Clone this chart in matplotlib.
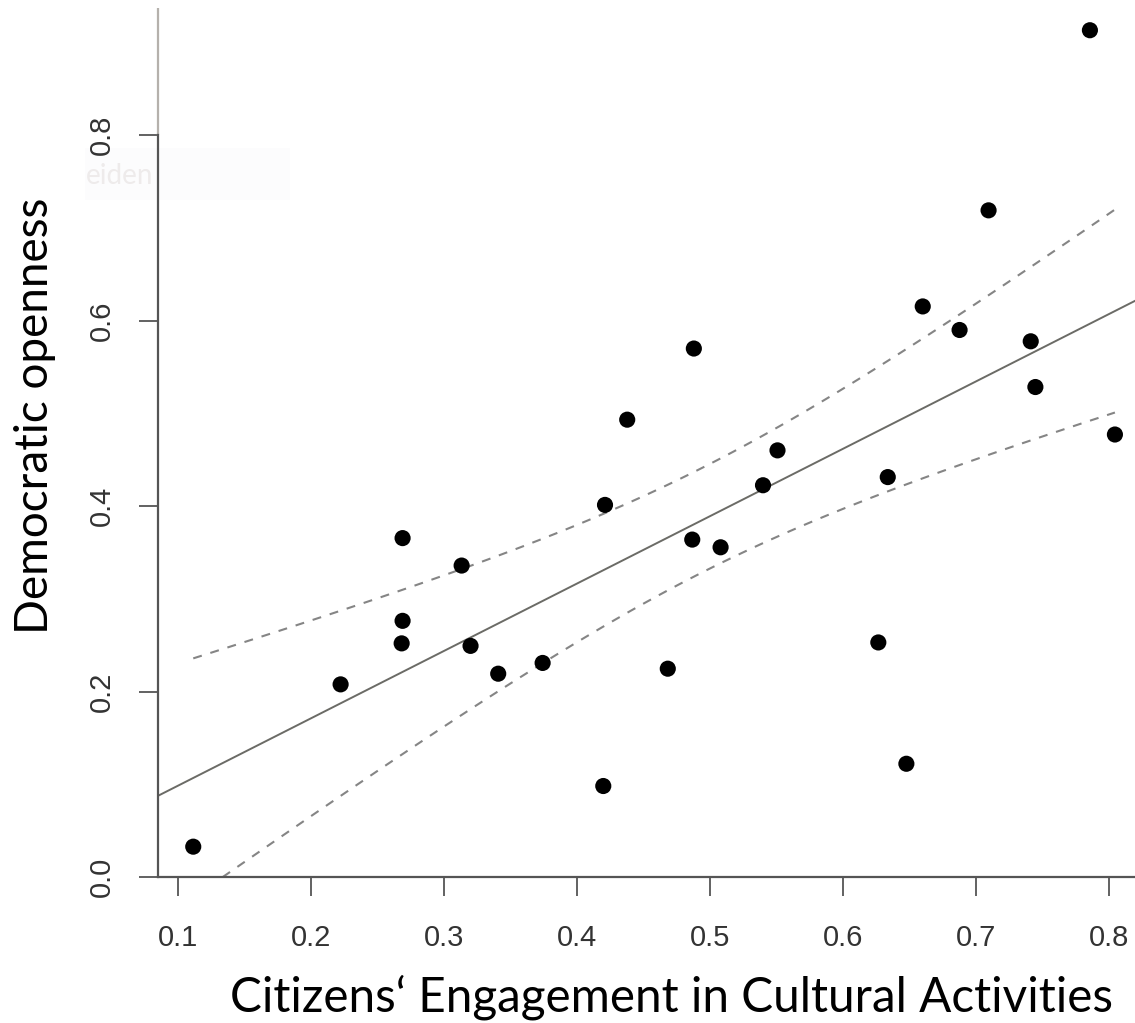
import numpy as np
import matplotlib
matplotlib.use("Agg")
import matplotlib.pyplot as plt
from matplotlib.patches import Rectangle

# values
engagement = [0.1115, 0.2223, 0.2689, 0.2689, 0.2682, 0.3133, 0.3200, 0.3408,
              0.3742, 0.4211, 0.4198, 0.4378, 0.4879, 0.4683, 0.4867, 0.5080,
              0.5508, 0.5399, 0.6337, 0.6266, 0.6477, 0.6600, 0.6877, 0.7095,
              0.7412, 0.7447, 0.8045, 0.7857]
openness = [0.0327, 0.2077, 0.3654, 0.2762, 0.2519, 0.3358, 0.2492, 0.2192,
            0.2308, 0.4012, 0.0981, 0.4931, 0.5698, 0.2246, 0.3638, 0.3555,
            0.4600, 0.4224, 0.4312, 0.2529, 0.1221, 0.6152, 0.5898, 0.7188,
            0.5776, 0.5283, 0.4771, 0.9130]
xticks = [0.1, 0.2, 0.3, 0.4, 0.5, 0.6, 0.7, 0.8]
yticks = [0.0, 0.2, 0.4, 0.6, 0.8]

x = np.array(engagement)
y = np.array(openness)

# least squares line and 95% confidence band for the mean
n = len(x)
slope, icept = np.polyfit(x, y, 1)
resid = y - (icept + slope * x)
s = np.sqrt(np.sum(resid ** 2) / (n - 2))
sxx = np.sum((x - x.mean()) ** 2)
t_crit = 2.0555  # t(0.975, df=26)

xlim = (0.085, 0.8196)
ylim = (0.0, 0.9456)
line_x = np.linspace(xlim[0], xlim[1], 50)
band_x = np.linspace(x.min(), x.max(), 100)
band_fit = icept + slope * band_x
half = t_crit * s * np.sqrt(1 / n + (band_x - x.mean()) ** 2 / sxx)

fig = plt.figure(figsize=(11.35, 10.23), dpi=100)
ax = fig.add_axes([158 / 1135, 146 / 1023, 977 / 1135, 877 / 1023])

# faint leftover box behind the axis line
ax.add_patch(Rectangle((85 / 1135, 1 - 200 / 1023), 205 / 1135, 52 / 1023,
                       transform=fig.transFigure, facecolor="#fcfcfd",
                       edgecolor="none", zorder=0.2, clip_on=False))
ax.text(86 / 1135, 1 - 176 / 1023, "eiden", fontsize=20, color="#eeebeb",
        family="Lato", va="center", ha="left", zorder=0.3,
        transform=fig.transFigure)

ax.plot(line_x, icept + slope * line_x, color="#6b6b66", lw=1.4)
ax.plot(band_x, band_fit + half, color="#858585", lw=1.5, ls=(0, (4.3, 4.3)))
ax.plot(band_x, band_fit - half, color="#858585", lw=1.5, ls=(0, (4.3, 4.3)))
ax.scatter(x, y, s=135, color="black", edgecolors="none", zorder=3)

ax.set_xlim(*xlim)
ax.set_ylim(*ylim)
ax.patch.set_alpha(0)

for side in ["top", "right"]:
    ax.spines[side].set_visible(False)
ax.spines["bottom"].set_color("#555555")
ax.spines["bottom"].set_linewidth(1.6)
ax.spines["left"].set_color("#555555")
ax.spines["left"].set_linewidth(1.6)
ax.spines["left"].set_bounds(0.0, 0.8)
ax.plot([xlim[0], xlim[0]], [0.8, 0.937], color="#b5b1ac", lw=1.6,
        clip_on=False, solid_capstyle="butt")

ax.set_xticks(xticks)
ax.set_xticklabels([f"{v:.1f}" for v in xticks])
ax.set_yticks(yticks)
ax.set_yticklabels([f"{v:.1f}" for v in yticks], rotation=90, va="center")
ax.tick_params(axis="both", length=13.5, width=1.3, color="#555555",
               labelcolor="#333333", labelsize=21)
ax.tick_params(axis="x", pad=20)
ax.tick_params(axis="y", pad=17)
for lab in ax.get_xticklabels() + ax.get_yticklabels():
    lab.set_family("Liberation Sans")

fig.text(672 / 1135, 1 - 997 / 1023, "Citizens\u2018 Engagement in Cultural Activities",
         fontsize=34.3, family="Lato", ha="center", va="center")
fig.text(35 / 1135, 1 - 416 / 1023, "Democratic openness", fontsize=33,
         family="Lato", ha="center", va="center", rotation=90)

fig.savefig("out.png", dpi=100)
